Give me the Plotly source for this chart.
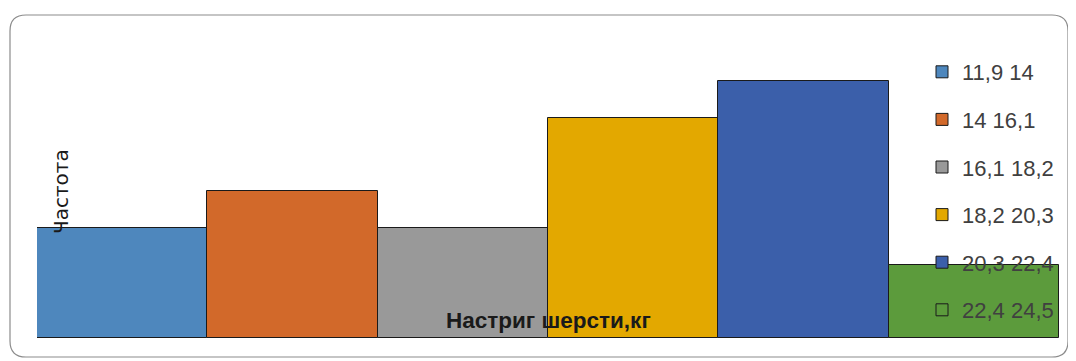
import plotly.graph_objects as go

categories = ["11,9 14", "14 16,1", "16,1 18,2", "18,2 20,3", "20,3 22,4", "22,4 24,5"]
frequencies = [3, 4, 3, 6, 7, 2]
colors = ["#4E87BD", "#D2692A", "#999999", "#E3A800", "#3B5FAA", "#5C9B3C"]

OFF = 8  # default page body margin
W, H = 1076 - OFF, 361 - OFF
# plot area in reference pixel coordinates
PX0, PX1, PY0, PY1 = 37, 1059, 44, 338
L, R, T, B = PX0 - OFF, W - (PX1 - OFF), PY0 - OFF, H - (PY1 - OFF)
pw, ph = PX1 - PX0, PY1 - PY0

fig = go.Figure()
for i, (cat, f, c) in enumerate(zip(categories, frequencies, colors)):
    fig.add_trace(go.Bar(
        x=[i], y=[f], width=1, name=cat, legendgroup=cat,
        marker=dict(color=c, line=dict(color="#1a1a1a", width=1)),
    ))

def px2paper_x(p):
    return (p - PX0) / pw

def px2paper_y(p):
    return (PY1 - p) / ph

# rounded border
x0, x1, y0, y1, r = 10, 1068, 15, 357, 16
path = (f"M {px2paper_x(x0 + r)},{px2paper_y(y0)} "
        f"L {px2paper_x(x1 - r)},{px2paper_y(y0)} "
        f"Q {px2paper_x(x1)},{px2paper_y(y0)} {px2paper_x(x1)},{px2paper_y(y0 + r)} "
        f"L {px2paper_x(x1)},{px2paper_y(y1 - r)} "
        f"Q {px2paper_x(x1)},{px2paper_y(y1)} {px2paper_x(x1 - r)},{px2paper_y(y1)} "
        f"L {px2paper_x(x0 + r)},{px2paper_y(y1)} "
        f"Q {px2paper_x(x0)},{px2paper_y(y1)} {px2paper_x(x0)},{px2paper_y(y1 - r)} "
        f"L {px2paper_x(x0)},{px2paper_y(y0 + r)} "
        f"Q {px2paper_x(x0)},{px2paper_y(y0)} {px2paper_x(x0 + r)},{px2paper_y(y0)} Z")
fig.add_shape(type="path", path=path, xref="paper", yref="paper",
              line=dict(color="#8c8c8c", width=1.2), layer="below")

fig.add_annotation(text="Частота", textangle=-90, x=px2paper_x(61), y=px2paper_y(192),
                   xref="paper", yref="paper", showarrow=False,
                   xanchor="center", yanchor="middle",
                   font=dict(family="DejaVu Sans", size=20, color="#1a1a1a"))
fig.add_annotation(text="<b>Настриг шерсти,кг</b>", x=px2paper_x(548), y=px2paper_y(320),
                   xref="paper", yref="paper", showarrow=False,
                   xanchor="center", yanchor="middle",
                   font=dict(family="Liberation Sans Narrow, Liberation Sans", size=22.5, color="#1a1a1a"))

fig.update_layout(
    width=W, height=H,
    margin=dict(l=L, r=R, t=T, b=B),
    paper_bgcolor="white", plot_bgcolor="rgba(0,0,0,0)",
    barmode="overlay", bargap=0,
    showlegend=True,
    legend=dict(x=px2paper_x(922), y=px2paper_y(51), xanchor="left", yanchor="top",
                bgcolor="rgba(0,0,0,0)", tracegroupgap=16, itemwidth=30, maxheight=600,
                font=dict(family="Liberation Sans", size=22, color="#404040")),
    xaxis=dict(range=[-0.5, 5.5], showticklabels=False, showgrid=False, zeroline=False, showline=False, ticks=""),
    yaxis=dict(range=[0, 8], showticklabels=False, showgrid=False, zeroline=False, showline=False, ticks=""),
)

fig.write_html("out.html")
